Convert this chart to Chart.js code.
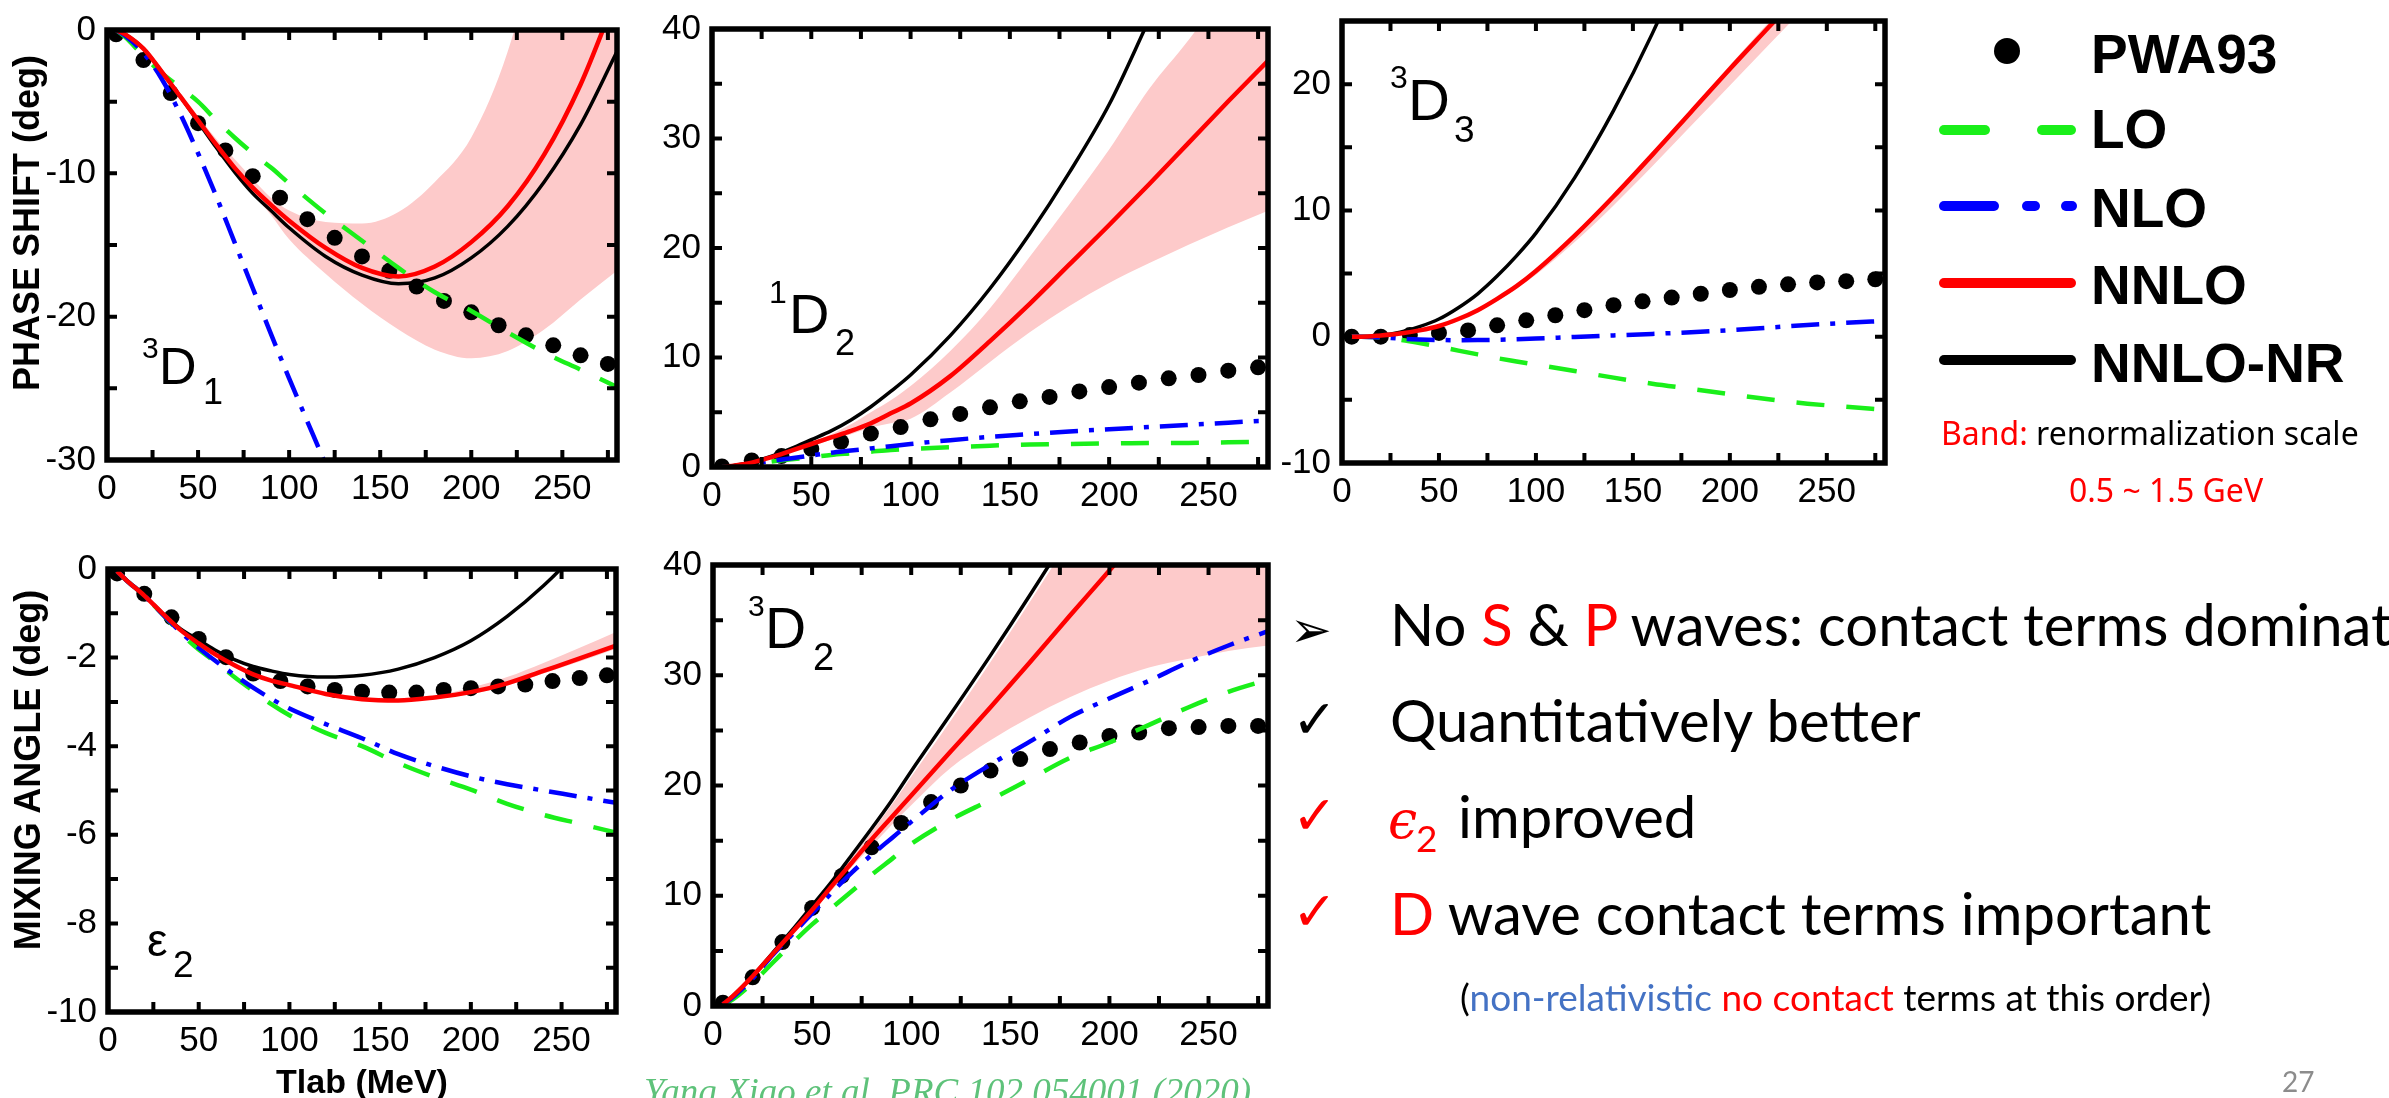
<!DOCTYPE html>
<html>
<head>
<meta charset="utf-8">
<script src="https://cdn.jsdelivr.net/npm/chart.js@4.4.1/dist/chart.umd.min.js"></script>
<style>
html, body { margin: 0; padding: 0; background: #fff; }
body { width: 2389px; height: 1098px; overflow: hidden; position: relative; }
.panel { position: absolute; }
#over { position: absolute; left: 0; top: 0; pointer-events: none; }
</style>
</head>
<body>
<div class="panel" id="w1"><canvas id="c1"></canvas></div>
<div class="panel" id="w2"><canvas id="c2"></canvas></div>
<div class="panel" id="w3"><canvas id="c3"></canvas></div>
<div class="panel" id="w4"><canvas id="c4"></canvas></div>
<div class="panel" id="w5"><canvas id="c5"></canvas></div>

<svg id="over" width="2389" height="1098" xmlns="http://www.w3.org/2000/svg">
  <!-- axis titles -->
  <g font-family="Liberation Sans, Arial, sans-serif" font-weight="bold" fill="#000">
    <text transform="translate(39,223) rotate(-90)" text-anchor="middle" font-size="36">PHASE SHIFT (deg)</text>
    <text transform="translate(40,770) rotate(-90)" text-anchor="middle" font-size="36">MIXING ANGLE (deg)</text>
    <text x="362" y="1093" text-anchor="middle" font-size="34">Tlab (MeV)</text>
  </g>
  <!-- partial wave labels -->
  <g font-family="Liberation Sans, Arial, sans-serif" fill="#000">
    <text x="142" y="358" font-size="30">3</text><text x="159" y="384" font-size="52">D</text><text x="203" y="404" font-size="36">1</text>
    <text x="769" y="303" font-size="32">1</text><text x="789" y="333" font-size="56">D</text><text x="835" y="355" font-size="36">2</text>
    <text x="1390" y="88" font-size="32">3</text><text x="1408" y="120" font-size="58">D</text><text x="1454" y="142" font-size="37">3</text>
    <text x="748" y="616" font-size="30">3</text><text x="765" y="648" font-size="57">D</text><text x="813" y="670" font-size="38">2</text>
    <text x="147" y="956" font-size="46">ε</text><text x="173" y="977" font-size="37">2</text>
  </g>
  <!-- legend -->
  <circle cx="2007" cy="51" r="13" fill="#000"/>
  <g stroke-width="10" stroke-linecap="round">
    <line x1="1944" y1="130" x2="1985" y2="130" stroke="#1aef1a"/>
    <line x1="2042" y1="130" x2="2071" y2="130" stroke="#1aef1a"/>
    <line x1="1944" y1="206" x2="1994" y2="206" stroke="#0000ff"/>
    <line x1="2027" y1="206" x2="2035" y2="206" stroke="#0000ff"/>
    <line x1="2066" y1="206" x2="2072" y2="206" stroke="#0000ff"/>
    <line x1="1944" y1="283" x2="2071" y2="283" stroke="#ff0000"/>
    <line x1="1944" y1="360" x2="2071" y2="360" stroke="#000000"/>
  </g>
  <g font-family="Liberation Sans, Arial, sans-serif" font-weight="bold" font-size="55" fill="#000">
    <text x="2091" y="73">PWA93</text>
    <text x="2091" y="148">LO</text>
    <text x="2091" y="227">NLO</text>
    <text x="2091" y="304">NNLO</text>
    <text x="2091" y="382">NNLO-NR</text>
  </g>
  <g font-family="Noto Sans, sans-serif" font-size="32">
    <text x="1941" y="445"><tspan fill="#ff0000">Band:</tspan><tspan fill="#000"> renormalization scale</tspan></text>
    <text x="2166" y="502" text-anchor="middle" fill="#ff0000">0.5 ~ 1.5 GeV</text>
  </g>
  <!-- remarks -->
  <g font-family="DejaVu Sans, sans-serif">
    <text x="1290" y="647" font-size="50" fill="#000">➢</text>
    <text x="1292" y="738" font-size="54" fill="#000">✓</text>
    <text x="1292" y="834" font-size="54" fill="#ff0000">✓</text>
    <text x="1292" y="930" font-size="54" fill="#ff0000">✓</text>
  </g>
  <g font-family="Lato, sans-serif" font-size="58" fill="#000">
    <text x="1390" y="646">No <tspan fill="#ff0000">S</tspan> &amp; <tspan fill="#ff0000">P</tspan> waves: contact terms dominate</text>
    <text x="1390" y="742">Quantitatively better</text>
    <text x="1458" y="838">improved</text>
    <text x="1390" y="935"><tspan fill="#ff0000">D</tspan> wave contact terms important</text>
    <text x="1460" y="1011" font-size="37">(<tspan fill="#4472c4">non-relativistic</tspan> <tspan fill="#ff0000">no contact</tspan> terms at this order)</text>
    <text x="2282" y="1092" font-size="28" fill="#8c8c8c">27</text>
  </g>
  <text x="1388" y="838" font-family="DejaVu Serif, serif" font-style="italic" font-size="52" fill="#ff0000">ϵ</text>
  <text x="1416" y="852" font-family="Lato, sans-serif" font-size="37" fill="#ff0000">2</text>
  <text x="644" y="1104" font-family="Liberation Serif, serif" font-style="italic" font-size="37" fill="#5ec27a">Yang Xiao et al. PRC 102 054001 (2020)</text>
</svg>

<script>
// energies (MeV)
var TLAB = [5, 10, 20, 30, 40, 50, 60, 70, 80, 90, 100, 120, 140, 160, 180, 200, 220, 240, 260, 280];
var TLAB_PWA = [5, 20, 35, 50, 65, 80, 95, 110, 125, 140, 155, 170, 185, 200, 215, 230, 245, 260, 275];

// 3D1
var d1_pwa = [-0.3, -2.1, -4.4, -6.5, -8.4, -10.2, -11.7, -13.2, -14.5, -15.8, -16.8, -17.9, -18.9, -19.7, -20.6, -21.3, -22.0, -22.7, -23.3];
var d1_lo = [0, -0.5, -1.8, -3.0, -4.0, -5.0, -6.3, -7.5, -8.6, -9.6, -10.7, -12.8, -14.7, -16.6, -18.3, -19.6, -21.1, -22.5, -23.7, -24.9];
var d1_nlo = [0, -0.4, -1.6, -3.4, -5.8, -8.6, -11.6, -14.8, -18.0, -21.2, -24.3, -30.3, -36.3, -42.3, -48.3, -54.3, -60.3, -66.3, -72.3, -78.3];
var d1_nnlo = [0, -0.3, -1.3, -2.9, -4.6, -6.3, -8.0, -9.6, -11.0, -12.2, -13.3, -15.2, -16.6, -17.2, -16.5, -14.8, -12.3, -8.7, -3.8, 2.5];
var d1_nr = [0, -0.3, -1.3, -2.9, -4.6, -6.4, -8.2, -9.9, -11.4, -12.6, -13.8, -15.8, -17.1, -17.7, -17.3, -15.9, -13.7, -10.6, -6.6, -1.5];
var d1_bandHi = [0, -0.3, -1.3, -2.8, -4.4, -6.0, -7.6, -9.0, -10.4, -11.7, -12.6, -13.4, -13.5, -12.7, -10.6, -7.5, -1.5, 8, 20, 33];
var d1_bandLo = [0, -0.4, -1.4, -3.0, -4.8, -6.6, -8.2, -9.8, -11.4, -12.9, -14.6, -17.0, -19.1, -20.9, -22.3, -22.9, -22.4, -20.9, -18.8, -16.8];

// 1D2
var d2_pwa = [0.05, 0.6, 1.0, 1.65, 2.3, 3.05, 3.65, 4.35, 4.85, 5.45, 6.0, 6.4, 6.9, 7.3, 7.7, 8.1, 8.4, 8.8, 9.1];
var d2_lo = [0, 0.05, 0.25, 0.5, 0.7, 0.9, 1.1, 1.25, 1.4, 1.55, 1.65, 1.8, 1.95, 2.05, 2.1, 2.15, 2.2, 2.2, 2.25, 2.3];
var d2_nlo = [0, 0.05, 0.3, 0.55, 0.8, 1.05, 1.3, 1.5, 1.7, 1.9, 2.1, 2.45, 2.75, 3.0, 3.25, 3.45, 3.65, 3.85, 4.05, 4.25];
var d2_nnlo = [0, 0.1, 0.4, 0.9, 1.5, 2.1, 2.7, 3.3, 4.0, 4.9, 5.8, 8.3, 11.5, 14.9, 18.5, 22.1, 25.8, 29.6, 33.4, 37.1];
var d2_nr = [0, 0.1, 0.45, 1.0, 1.7, 2.5, 3.3, 4.3, 5.5, 6.9, 8.4, 12.0, 16.3, 21.3, 26.9, 33.1, 40.8, 48.5, 57, 66];
var d2_bandHi = [0, 0.1, 0.4, 0.9, 1.6, 2.2, 3.0, 3.9, 5.0, 6.1, 7.4, 10.6, 14.5, 19.2, 24.0, 29.0, 34.5, 39.0, 44, 50];
var d2_bandLo = [0, 0.1, 0.4, 0.9, 1.4, 1.9, 2.5, 3.0, 3.6, 4.0, 4.4, 6.8, 9.6, 12.3, 14.7, 16.8, 18.6, 20.3, 21.9, 23.4];

// 3D3
var d3_pwa = [0, 0, 0.13, 0.3, 0.5, 0.9, 1.3, 1.7, 2.1, 2.5, 2.8, 3.1, 3.4, 3.7, 3.95, 4.15, 4.3, 4.4, 4.55];
var d3_lo = [0, 0, -0.05, -0.25, -0.5, -0.78, -1.1, -1.4, -1.7, -1.96, -2.21, -2.72, -3.24, -3.72, -4.13, -4.55, -4.96, -5.3, -5.55, -5.78];
var d3_nlo = [0, 0, -0.05, -0.15, -0.22, -0.26, -0.28, -0.27, -0.24, -0.2, -0.15, -0.02, 0.1, 0.22, 0.36, 0.52, 0.72, 0.93, 1.1, 1.25];
var d3_nnlo = [0, 0, 0.1, 0.25, 0.5, 0.85, 1.4, 2.1, 3.0, 4.0, 5.2, 8.0, 11.1, 14.4, 17.8, 21.2, 24.5, 27.8, 31.2, 34.6];
var d3_nr = [0, 0, 0.1, 0.35, 0.8, 1.4, 2.3, 3.4, 4.8, 6.4, 8.2, 12.6, 17.9, 24.0, 31, 38.5, 46.5, 55, 64, 74];
var d3_bandHi = [0, 0, 0.1, 0.25, 0.5, 0.85, 1.4, 2.1, 3.0, 4.0, 5.3, 8.1, 11.3, 14.6, 18.0, 21.5, 24.9, 28.3, 31.8, 35.3];
var d3_bandLo = [0, 0, 0.1, 0.25, 0.5, 0.85, 1.35, 2.0, 2.85, 3.8, 4.9, 7.5, 10.4, 13.5, 16.7, 19.9, 23.1, 26.3, 29.6, 32.8];

// epsilon 2
var e2_pwa = [-0.1, -0.56, -1.09, -1.58, -1.99, -2.36, -2.53, -2.65, -2.73, -2.77, -2.79, -2.79, -2.73, -2.69, -2.65, -2.61, -2.53, -2.46, -2.40];
var e2_lo = [-0.05, -0.25, -0.6, -1.02, -1.45, -1.82, -2.12, -2.45, -2.75, -3.05, -3.3, -3.7, -4.0, -4.38, -4.7, -4.98, -5.3, -5.55, -5.75, -5.95];
var e2_nlo = [-0.05, -0.25, -0.6, -1.02, -1.42, -1.78, -2.1, -2.4, -2.68, -2.93, -3.15, -3.5, -3.82, -4.18, -4.45, -4.68, -4.86, -5.0, -5.14, -5.28];
var e2_nnlo = [-0.05, -0.25, -0.6, -1.0, -1.38, -1.68, -1.95, -2.18, -2.38, -2.52, -2.62, -2.82, -2.94, -2.97, -2.9, -2.78, -2.58, -2.3, -2.02, -1.73];
var e2_nr = [-0.05, -0.25, -0.6, -1.0, -1.35, -1.6, -1.85, -2.05, -2.2, -2.3, -2.38, -2.44, -2.4, -2.26, -2.0, -1.62, -1.07, -0.38, 0.45, 1.4];
var e2_bandHi = [-0.05, -0.25, -0.6, -1.0, -1.38, -1.68, -1.95, -2.18, -2.38, -2.52, -2.62, -2.82, -2.93, -2.95, -2.86, -2.68, -2.44, -2.12, -1.78, -1.42];
var e2_bandLo = [-0.05, -0.25, -0.6, -1.0, -1.38, -1.68, -1.95, -2.18, -2.38, -2.52, -2.62, -2.82, -2.95, -2.99, -2.93, -2.82, -2.63, -2.36, -2.09, -1.8];

// 3D2
var d5_pwa = [0.3, 2.6, 5.8, 8.9, 11.8, 14.4, 16.6, 18.5, 20.0, 21.35, 22.4, 23.3, 23.9, 24.5, 24.8, 25.2, 25.3, 25.4, 25.4];
var d5_lo = [0.1, 0.6, 2.1, 3.9, 5.7, 7.4, 8.9, 10.4, 11.9, 13.3, 14.7, 16.9, 18.7, 20.6, 22.5, 23.9, 25.5, 27.1, 28.5, 29.6];
var d5_nlo = [0.15, 0.8, 2.5, 4.6, 6.5, 8.4, 10.3, 12.1, 13.7, 15.2, 16.7, 19.6, 21.9, 24.0, 26.2, 27.9, 29.5, 31.2, 32.7, 34.0];
var d5_nnlo = [0.15, 0.9, 2.7, 4.7, 6.7, 8.7, 10.9, 13.0, 15.1, 17.1, 19.1, 23.1, 27.1, 31.2, 35.4, 39.5, 43.7, 48, 52, 56];
var d5_nr = [0.15, 0.9, 2.7, 4.8, 6.9, 9.1, 11.3, 13.7, 16.1, 18.6, 21.3, 26.5, 31.8, 37.3, 43.0, 49, 55, 61, 67, 73];
var d5_bandHi = [0.15, 0.9, 2.7, 4.8, 6.9, 9.0, 11.2, 13.5, 15.8, 18.2, 20.8, 25.9, 31.2, 36.7, 42.3, 48, 54, 60, 66, 72];
var d5_bandLo = [0.15, 0.9, 2.6, 4.6, 6.5, 8.5, 10.5, 12.6, 14.5, 16.4, 18.2, 21.6, 24.1, 26.2, 28.0, 29.5, 30.7, 31.5, 32.2, 32.7];

Chart.defaults.font.family = 'Liberation Sans, Arial, sans-serif';
Chart.defaults.color = '#000';

// box frame with inward ticks on all four sides
var framePlugin = {
    id: 'frame',
    afterDatasetsDraw: function (chart, args, opts) {
        var ctx = chart.ctx, a = chart.chartArea, x = chart.scales.x, y = chart.scales.y, v, p;
        ctx.save();
        ctx.strokeStyle = '#000';
        ctx.lineWidth = 4;
        ctx.beginPath();
        for (v = opts.xMinor; v < x.max; v += opts.xMinor) {
            p = x.getPixelForValue(v);
            ctx.moveTo(p, a.bottom); ctx.lineTo(p, a.bottom - 10);
            ctx.moveTo(p, a.top); ctx.lineTo(p, a.top + 10);
        }
        for (v = y.min + opts.yMinor; v < y.max - 1e-6; v += opts.yMinor) {
            p = y.getPixelForValue(v);
            ctx.moveTo(a.left, p); ctx.lineTo(a.left + 10, p);
            ctx.moveTo(a.right, p); ctx.lineTo(a.right - 10, p);
        }
        ctx.stroke();
        ctx.lineWidth = 5.5;
        ctx.strokeRect(a.left, a.top, a.right - a.left, a.bottom - a.top);
        ctx.restore();
    }
};

function pts(xs, ys) {
    return xs.map(function (t, i) { return { x: t, y: ys[i] }; });
}

function curve(ys, color, width, dash) {
    return {
        data: pts(TLAB, ys), borderColor: color, borderWidth: width, borderDash: dash || [],
        pointRadius: 0, fill: false, cubicInterpolationMode: 'monotone'
    };
}

function drawPanel(id, box, yMin, yMax, yStep, s) {
    var wrap = document.getElementById('w' + id);
    wrap.style.left = (box[0] - 100) + 'px';
    wrap.style.top = (box[1] - 25) + 'px';
    wrap.style.width = (box[2] - box[0] + 125) + 'px';
    wrap.style.height = (box[3] - box[1] + 85) + 'px';

    var datasets = [
        curve(s.nnlo, '#ff0000', 4.5),
        curve(s.nr, '#000000', 3.5),
        curve(s.nlo, '#0000ff', 4.5, [28, 11, 5, 11]),
        curve(s.lo, '#1aef1a', 4.5, [28, 22]),
        { data: pts(TLAB_PWA, s.pwa), showLine: false, pointRadius: 8, pointBackgroundColor: '#000', pointBorderWidth: 0, borderColor: '#000' },
        { data: pts(TLAB, s.hi), borderWidth: 0, borderColor: 'transparent', pointRadius: 0, fill: '+1', backgroundColor: '#fdcaca', cubicInterpolationMode: 'monotone' },
        { data: pts(TLAB, s.lo2), borderWidth: 0, borderColor: 'transparent', pointRadius: 0, fill: false, cubicInterpolationMode: 'monotone' }
    ];

    new Chart(document.getElementById('c' + id), {
        type: 'line',
        data: { datasets: datasets },
        options: {
            responsive: true,
            maintainAspectRatio: false,
            animation: false,
            layout: { padding: { left: 0, top: 25, right: 25, bottom: 0 } },
            plugins: {
                legend: { display: false },
                tooltip: { enabled: false },
                frame: { xMinor: 25, yMinor: yStep / 2 }
            },
            scales: {
                x: {
                    type: 'linear', min: 0, max: 280,
                    grid: { display: false, drawTicks: false },
                    border: { display: false },
                    ticks: { stepSize: 50, includeBounds: false, padding: 8, font: { size: 35 } },
                    afterFit: function (sc) { sc.height = 60; }
                },
                y: {
                    type: 'linear', min: yMin, max: yMax,
                    grid: { display: false, drawTicks: false },
                    border: { display: false },
                    ticks: { stepSize: yStep, includeBounds: false, padding: 11, font: { size: 35 } },
                    afterFit: function (sc) { sc.width = 100; }
                }
            }
        },
        plugins: [framePlugin]
    });
}

drawPanel(1, [107, 23, 617, 460], -30, 0, 10,
    { pwa: d1_pwa, lo: d1_lo, nlo: d1_nlo, nnlo: d1_nnlo, nr: d1_nr, hi: d1_bandHi, lo2: d1_bandLo });
drawPanel(2, [712, 22, 1268, 467], 0, 40, 10,
    { pwa: d2_pwa, lo: d2_lo, nlo: d2_nlo, nnlo: d2_nnlo, nr: d2_nr, hi: d2_bandHi, lo2: d2_bandLo });
drawPanel(3, [1342, 14, 1885, 463], -10, 25, 10,
    { pwa: d3_pwa, lo: d3_lo, nlo: d3_nlo, nnlo: d3_nnlo, nr: d3_nr, hi: d3_bandHi, lo2: d3_bandLo });
drawPanel(4, [108, 562, 616, 1012], -10, 0, 2,
    { pwa: e2_pwa, lo: e2_lo, nlo: e2_nlo, nnlo: e2_nnlo, nr: e2_nr, hi: e2_bandHi, lo2: e2_bandLo });
drawPanel(5, [713, 558, 1268, 1006], 0, 40, 10,
    { pwa: d5_pwa, lo: d5_lo, nlo: d5_nlo, nnlo: d5_nnlo, nr: d5_nr, hi: d5_bandHi, lo2: d5_bandLo });
</script>
</body>
</html>
